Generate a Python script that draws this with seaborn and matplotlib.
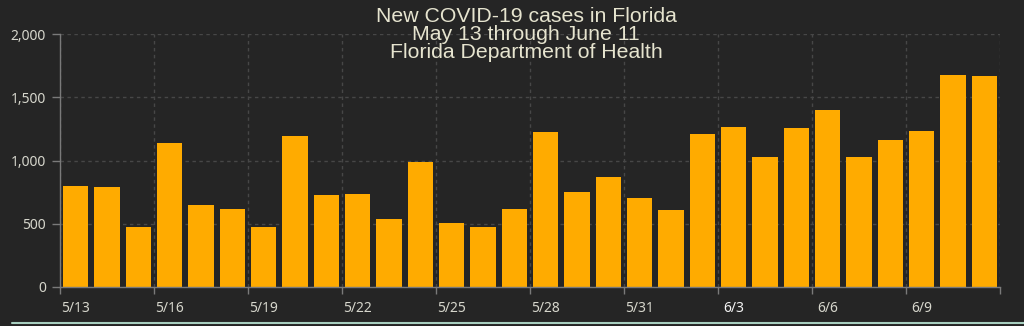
import matplotlib
matplotlib.use("Agg")
import matplotlib.pyplot as plt
from matplotlib.lines import Line2D
import seaborn as sns
import pandas as pd
import numpy as np

dates = ["5/13", "5/14", "5/15", "5/16", "5/17", "5/18", "5/19", "5/20", "5/21", "5/22",
         "5/23", "5/24", "5/25", "5/26", "5/27", "5/28", "5/29", "5/30", "5/31", "6/1",
         "6/2", "6/3", "6/4", "6/5", "6/6", "6/7", "6/8", "6/9", "6/10", "6/11"]
cases = [798, 790, 477, 1141, 651, 614, 477, 1196, 725, 735,
         540, 986, 503, 477, 614, 1223, 753, 872, 706, 606,
         1212, 1267, 1028, 1257, 1397, 1028, 1160, 1233, 1676, 1668]
title_lines = ["New COVID-19 cases in Florida", "May 13 through June 11",
               "Florida Department of Health"]
y_ticks = [0, 500, 1000, 1500, 2000]

BG = "#252525"
BAR = "#FFAB00"
TXT = "#d6d6cc"
GRID = "#474747"
SPINE = "#7a7a7a"

sns.set_theme(style="dark")
plt.rcParams["font.family"] = ["Noto Sans", "DejaVu Sans"]

fig = plt.figure(figsize=(10.24, 3.26), dpi=100, facecolor=BG)
ax = fig.add_axes([60 / 1024, 1 - 287 / 326, 940 / 1024, 253 / 326])
ax.set_facecolor(BG)

df = pd.DataFrame({"date": dates, "cases": cases})
sns.barplot(data=df, x="date", y="cases", order=dates, color=BAR, saturation=1,
            width=0.8, linewidth=0, edgecolor="none", ax=ax)

ax.set_xlim(-0.5, len(dates) - 0.5)
ax.set_ylim(0, 2000)
ax.set_xlabel("")
ax.set_ylabel("")

# x ticks: labels on every third bar, tick marks/grid at group boundaries
label_pos = list(range(0, len(dates), 3))
ax.set_xticks(label_pos)
ax.set_xticklabels([dates[i] for i in label_pos])
ax.set_xticks(np.arange(-0.5, len(dates), 3), minor=True)
ax.tick_params(axis="x", which="major", length=0, pad=10, labelsize=10, labelcolor=TXT)
ax.tick_params(axis="x", which="minor", length=5, width=1, color=SPINE, bottom=True)
for lbl in ax.get_xticklabels():
    if lbl.get_text() == "6/3":
        lbl.set_fontweight("bold")
        lbl.set_color("#f4f4f4")

ax.set_yticks(y_ticks)
ax.set_yticklabels([f"{v:,}" for v in y_ticks])
ax.tick_params(axis="y", which="major", length=6, width=1, color=SPINE, left=True,
               labelsize=10, labelcolor=TXT, pad=4)

ax.grid(False)
ax.grid(True, axis="y", which="major", color=GRID, linestyle=(0, (2.5, 2.5)), linewidth=1)
ax.grid(True, axis="x", which="minor", color=GRID, linestyle=(0, (2.5, 2.5)), linewidth=1)
ax.set_axisbelow(True)

for side in ["top", "right"]:
    ax.spines[side].set_visible(False)
for side in ["left", "bottom"]:
    ax.spines[side].set_visible(True)
    ax.spines[side].set_color(SPINE)
    ax.spines[side].set_linewidth(1)

cx = 526 / 1024
for t, yy in zip(title_lines, [16, 34, 52]):
    fig.text(cx, 1 - yy / 326, t, ha="center", va="center", fontsize=15.3,
             color="#e6e4cf", family=["Liberation Sans", "DejaVu Sans"])

fig.add_artist(Line2D([12 / 1024, 1.0], [1 - 323 / 326] * 2, transform=fig.transFigure,
                      color="#a8cfc0", linewidth=1.5))

fig.savefig("out.png", dpi=100, facecolor=BG)
